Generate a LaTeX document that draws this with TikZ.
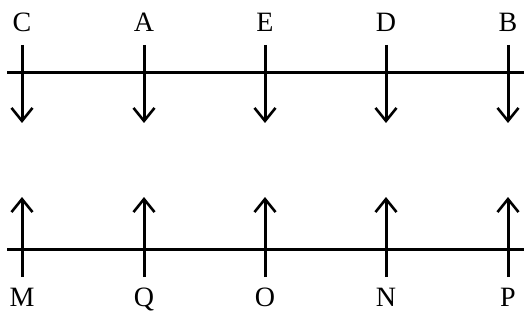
\documentclass[tikz,border=0pt]{standalone}
\usepackage{fontspec}
\setmainfont{Liberation Serif}
\usetikzlibrary{arrows.meta}
\begin{document}
\begin{tikzpicture}[x=1pt,y=-1pt,
  axis/.style={line width=3pt},
  vec/.style={line width=3pt,-{Straight Barb[length=13pt,width=21pt,line width=2.6pt]}},
  lbl/.style={font=\fontsize{28}{28}\selectfont,inner sep=0pt,anchor=base}]
\useasboundingbox (0,0) rectangle (524,323);
% top row
\coordinate (tl) at (7,73); \coordinate (tr) at (524,73);
\draw[axis] (tl) -- (tr);
\foreach \n/\x in {C/22,A/144,E/265,D/386,B/508}{
  \node[lbl] (\n) at (\x,32) {\n};
  \coordinate (\n s) at (\x,45);
  \coordinate (\n e) at (\x,123);
  \draw[vec] (\n s) -- (\n e);
}
% bottom row
\coordinate (bl) at (7,249); \coordinate (br) at (524,249);
\draw[axis] (bl) -- (br);
\foreach \n/\x in {M/22,Q/144,O/265,N/386,P/508}{
  \node[lbl] (\n) at (\x,306) {\n};
  \coordinate (\n s) at (\x,277);
  \coordinate (\n e) at (\x,197);
  \draw[vec] (\n s) -- (\n e);
}
\end{tikzpicture}
\end{document}
